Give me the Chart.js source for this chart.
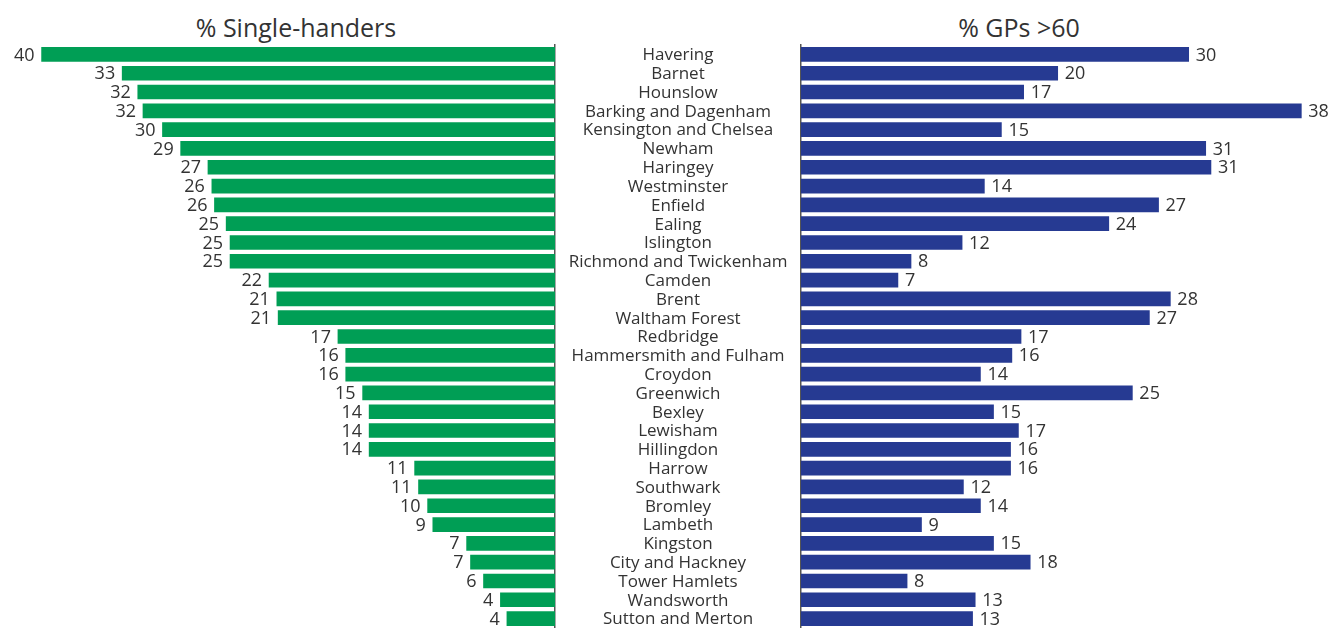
<!DOCTYPE html>
<html>
<head>
<meta charset="utf-8">
<script src="https://cdn.jsdelivr.net/npm/chart.js@4.4.0/dist/chart.umd.min.js"></script>
<style>
  body { margin: 0; background: #fff; }
  #wrap { position: relative; width: 1338px; height: 628px; overflow: hidden; }
  .ttl { position: absolute; top: 10px; font-family: 'Open Sans', sans-serif; font-size: 25px; color: #333; white-space: nowrap; transform: translateX(-50%); }
  #cLeft { position: absolute; left: 0; top: 0; }
  #cRight { position: absolute; left: 555px; top: 0; }
</style>
</head>
<body>
<div id="wrap">
  <div class="ttl" id="tLeft" style="left:296px">% Single-handers</div>
  <div class="ttl" id="tRight" style="left:1019px">% GPs &gt;60</div>
  <canvas id="cLeft" width="556" height="628"></canvas>
  <canvas id="cRight" width="783" height="628"></canvas>
</div>
<script>
// boroughs, top to bottom
const boroughs = [
  "Havering", "Barnet", "Hounslow", "Barking and Dagenham", "Kensington and Chelsea",
  "Newham", "Haringey", "Westminster", "Enfield", "Ealing", "Islington",
  "Richmond and Twickenham", "Camden", "Brent", "Waltham Forest", "Redbridge",
  "Hammersmith and Fulham", "Croydon", "Greenwich", "Bexley", "Lewisham",
  "Hillingdon", "Harrow", "Southwark", "Bromley", "Lambeth", "Kingston",
  "City and Hackney", "Tower Hamlets", "Wandsworth", "Sutton and Merton"
];

// % single-handed practices
const singleHanders = [
  39.5, 33.3, 32.1, 31.7, 30.2, 28.8, 26.7, 26.4, 26.2, 25.3, 25.0,
  25.0, 22.0, 21.4, 21.3, 16.7, 16.1, 16.1, 14.8, 14.3, 14.3,
  14.3, 10.8, 10.5, 9.8, 9.4, 6.8, 6.5, 5.5, 4.2, 3.7
];

// % GPs aged over 60
const gpsOver60 = [
  29.6, 19.6, 17.0, 38.2, 15.3, 30.9, 31.3, 14.0, 27.3, 23.5, 12.3,
  8.4, 7.4, 28.2, 26.6, 16.8, 16.1, 13.7, 25.3, 14.7, 16.6,
  16.0, 16.0, 12.4, 13.7, 9.2, 14.7, 17.5, 8.1, 13.3, 13.1
];

const GREEN = "#009e55";
const BLUE = "#263a92";
const TEXT = "#333333";
const AXIS = "#555555";

Chart.defaults.font.family = "'Open Sans', sans-serif";
Chart.defaults.color = TEXT;
Chart.defaults.animation = false;

// draws rounded values at the end of each bar
const valueLabels = {
  id: "valueLabels",
  afterDatasetsDraw(chart, args, opts) {
    const ctx = chart.ctx;
    const meta = chart.getDatasetMeta(0);
    const data = chart.data.datasets[0].data;
    ctx.save();
    ctx.font = "18px 'Open Sans', sans-serif";
    ctx.fillStyle = TEXT;
    ctx.textBaseline = "middle";
    ctx.textAlign = opts.side === "left" ? "right" : "left";
    meta.data.forEach((bar, i) => {
      const x = opts.side === "left" ? bar.x - 7 : bar.x + 7;
      ctx.fillText(Math.round(data[i]), x, bar.y + 1);
    });
    ctx.restore();
  }
};

// borough names centred in the gap between the two charts
const nameColumn = {
  id: "nameColumn",
  afterDraw(chart) {
    const ctx = chart.ctx;
    const y = chart.scales.y;
    const cx = y.left + y.width / 2;
    ctx.save();
    ctx.font = "17px 'Open Sans', sans-serif";
    ctx.fillStyle = TEXT;
    ctx.textAlign = "center";
    ctx.textBaseline = "middle";
    chart.data.labels.forEach((name, i) => {
      ctx.fillText(name, cx, y.getPixelForValue(i) + 1);
    });
    ctx.restore();
  }
};

// Left chart: single-handers, bars grow leftwards
new Chart(document.getElementById("cLeft"), {
  type: "bar",
  data: {
    labels: boroughs,
    datasets: [{ data: singleHanders, backgroundColor: GREEN, barThickness: 14 }]
  },
  options: {
    indexAxis: "y",
    responsive: false,
    layout: { padding: { top: 45, bottom: 0, left: 0, right: 1 } },
    plugins: { legend: { display: false }, tooltip: { enabled: false }, valueLabels: { side: "left" } },
    scales: {
      x: { display: false, min: 0, max: 42.7, reverse: true },
      y: {
        position: "right",
        ticks: { display: false },
        grid: { display: false, drawTicks: false },
        border: { display: true, color: AXIS, width: 1.5 },
        afterFit(s) { s.width = 0; }
      }
    }
  },
  plugins: [valueLabels]
});

// Right chart: GPs over 60, borough names in the middle column
new Chart(document.getElementById("cRight"), {
  type: "bar",
  data: {
    labels: boroughs,
    datasets: [{ data: gpsOver60, backgroundColor: BLUE, barThickness: 14 }]
  },
  options: {
    indexAxis: "y",
    responsive: false,
    layout: { padding: { top: 45, bottom: 0, left: 0, right: 0 } },
    plugins: { legend: { display: false }, tooltip: { enabled: false }, valueLabels: { side: "right" } },
    scales: {
      x: { display: false, min: 0, max: 41.0 },
      y: {
        position: "left",
        ticks: { display: false },
        grid: { display: false, drawTicks: false },
        border: { display: true, color: AXIS, width: 1.5 },
        afterFit(s) { s.width = 246; }
      }
    }
  },
  plugins: [valueLabels, nameColumn]
});
</script>
</body>
</html>
